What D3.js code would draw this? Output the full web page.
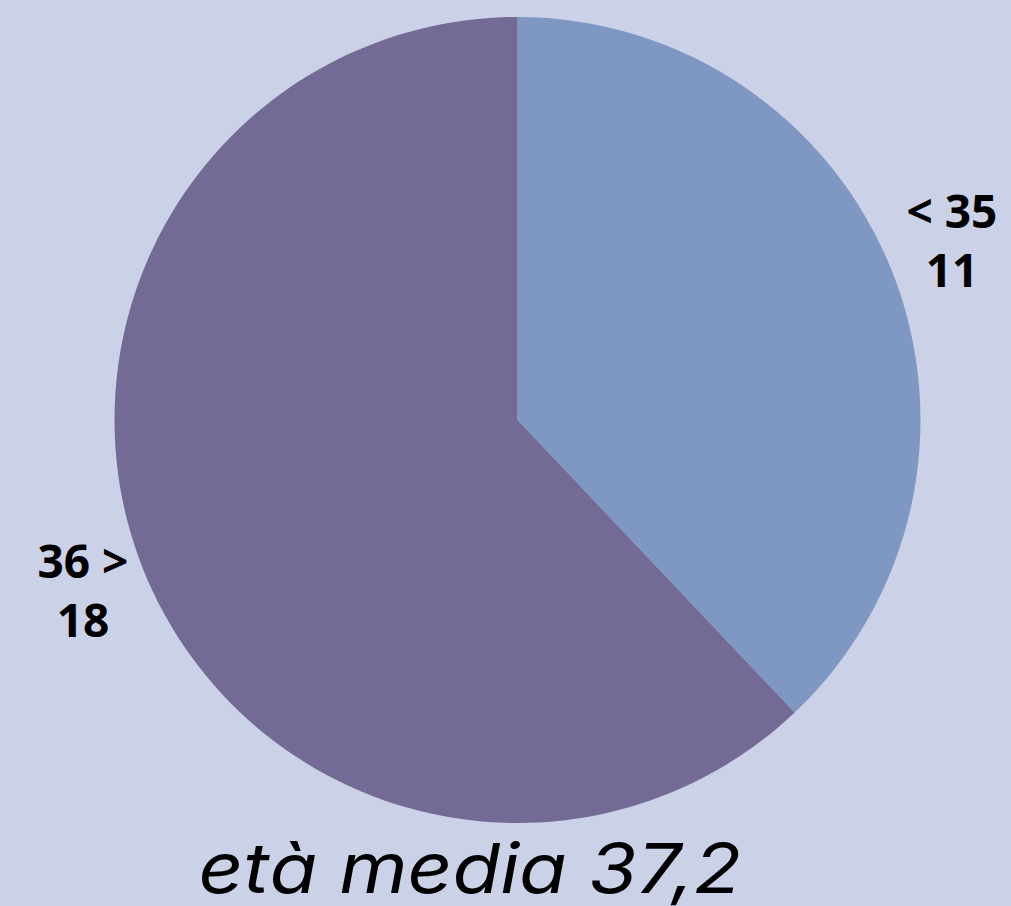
<!DOCTYPE html>
<html><head><meta charset="utf-8">
<script src="https://cdn.jsdelivr.net/npm/d3@7"></script>
<style>html,body{margin:0;padding:0;background:#cbd1e6;overflow:hidden}</style>
</head><body>
<svg id="c" width="1011" height="906"></svg>
<script>
const categories = ["< 35", "36 >"];
const values = [11, 18];
const colors = ["#7f97c3", "#746a96"];
const title = "età media 37,2";

const svg = d3.select("#c");
svg.append("rect").attr("width",1011).attr("height",906).attr("fill","#cbd1e6");
const cx = 517.5, cy = 420, r = 403;
const pie = d3.pie().sort(null).value(d => d)(values);
const arc = d3.arc().innerRadius(0).outerRadius(r);
const g = svg.append("g").attr("transform",`translate(${cx},${cy})`);
g.selectAll("path").data(pie).join("path").attr("d",arc).attr("fill",(d,i)=>colors[i]);

const labelPos = [[952, 228], [83, 578]];
pie.forEach((d,i)=>{
  const t = svg.append("text").attr("x",labelPos[i][0]).attr("y",labelPos[i][1])
    .attr("text-anchor","middle").attr("font-family","Open Sans, Noto Sans, sans-serif")
    .attr("font-weight","bold").attr("font-size",46).attr("fill","#000");
  t.append("tspan").attr("x",labelPos[i][0]).text(categories[i]);
  t.append("tspan").attr("x",labelPos[i][0]).attr("dy",59).text(values[i]);
});

svg.append("text").attr("transform","translate(470,893) scale(1.13,1)").attr("text-anchor","middle")
  .attr("font-family","Inter, sans-serif").attr("font-style","italic")
  .attr("font-size",69).attr("fill","#000").text(title);
</script>
</body></html>
